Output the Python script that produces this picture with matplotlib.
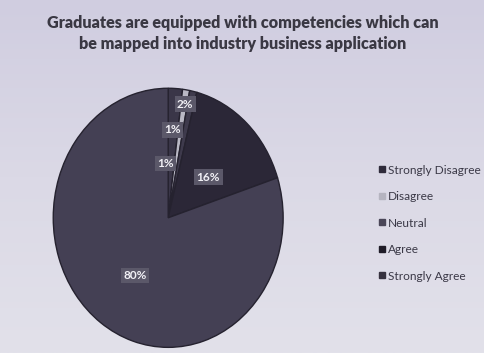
import numpy as np
import matplotlib
matplotlib.use("Agg")
import matplotlib.pyplot as plt
from matplotlib.lines import Line2D

plt.rcParams["font.family"] = ["Lato", "DejaVu Sans"]

# Survey responses (percent of graduates)
categories = ["Strongly Disagree", "Disagree", "Neutral", "Agree", "Strongly Agree"]
shares = [2, 1, 1, 16, 80]
slice_colors = ["#3a3648", "#b9b8c4", "#3e3a4c", "#2b2737", "#444054"]
legend_colors = ["#2f2b3b", "#b5b4c0", "#4a4658", "#1f1c28", "#36323f"]

title = "Graduates are equipped with competencies which can\nbe mapped into industry business application"

# label placement per slice: (radius, angular nudge in degrees, clockwise)
label_place = [(0.89, 6.0), (0.68, -6.0), (0.42, -16.0), (0.47, 5.0), (0.53, -3.0)]

fig = plt.figure(figsize=(4.84, 3.53), dpi=100, facecolor="#dcdae6")

# soft background wash, a touch darker near the top
bg = fig.add_axes([0, 0, 1, 1], zorder=-10)
grad = np.linspace(0, 1, 256).reshape(-1, 1)
bg.imshow(grad, aspect="auto", cmap=matplotlib.colors.LinearSegmentedColormap.from_list(
    "wash", ["#d0cde0", "#dbd9e6", "#e2e1ea"]), extent=[0, 1, 0, 1])
bg.axis("off")

fig.text(0.502, 0.905, title, ha="center", va="center", fontsize=11.6,
         fontweight="heavy", color="#3a3843", linespacing=1.38)

ax = fig.add_axes([0.110, 0.016, 0.475, 0.734])
wedges, _ = ax.pie(shares, colors=slice_colors, startangle=90, counterclock=False,
                   radius=1.0, wedgeprops=dict(edgecolor="#25222f", linewidth=1.0))
ax.set_aspect("auto")
ax.set_xlim(-1, 1)
ax.set_ylim(-1, 1)
ax.axis("off")

# percentage labels, positioned from each wedge's angular span
for w, val, (r, nudge) in zip(wedges, shares, label_place):
    mid = 0.5 * (w.theta1 + w.theta2) - nudge
    ang = np.deg2rad(mid)
    ax.text(r * np.cos(ang), r * np.sin(ang), f"{val}%", ha="center", va="center",
            fontsize=8.5, fontweight="bold", color="#f2f1f6",
            bbox=dict(boxstyle="square,pad=0.2", facecolor="#5b5869", edgecolor="none"))

handles = [Line2D([], [], marker="s", linestyle="none", markersize=4.5,
                  markerfacecolor=c, markeredgecolor=c) for c in legend_colors]
fig.legend(handles, categories, loc="center left", bbox_to_anchor=(0.770, 0.368),
           frameon=False, fontsize=8.6, labelcolor="#3b3947", handletextpad=0.1,
           handlelength=0.8, labelspacing=1.3, borderaxespad=0)

fig.savefig("out.png", dpi=100, facecolor=fig.get_facecolor())
